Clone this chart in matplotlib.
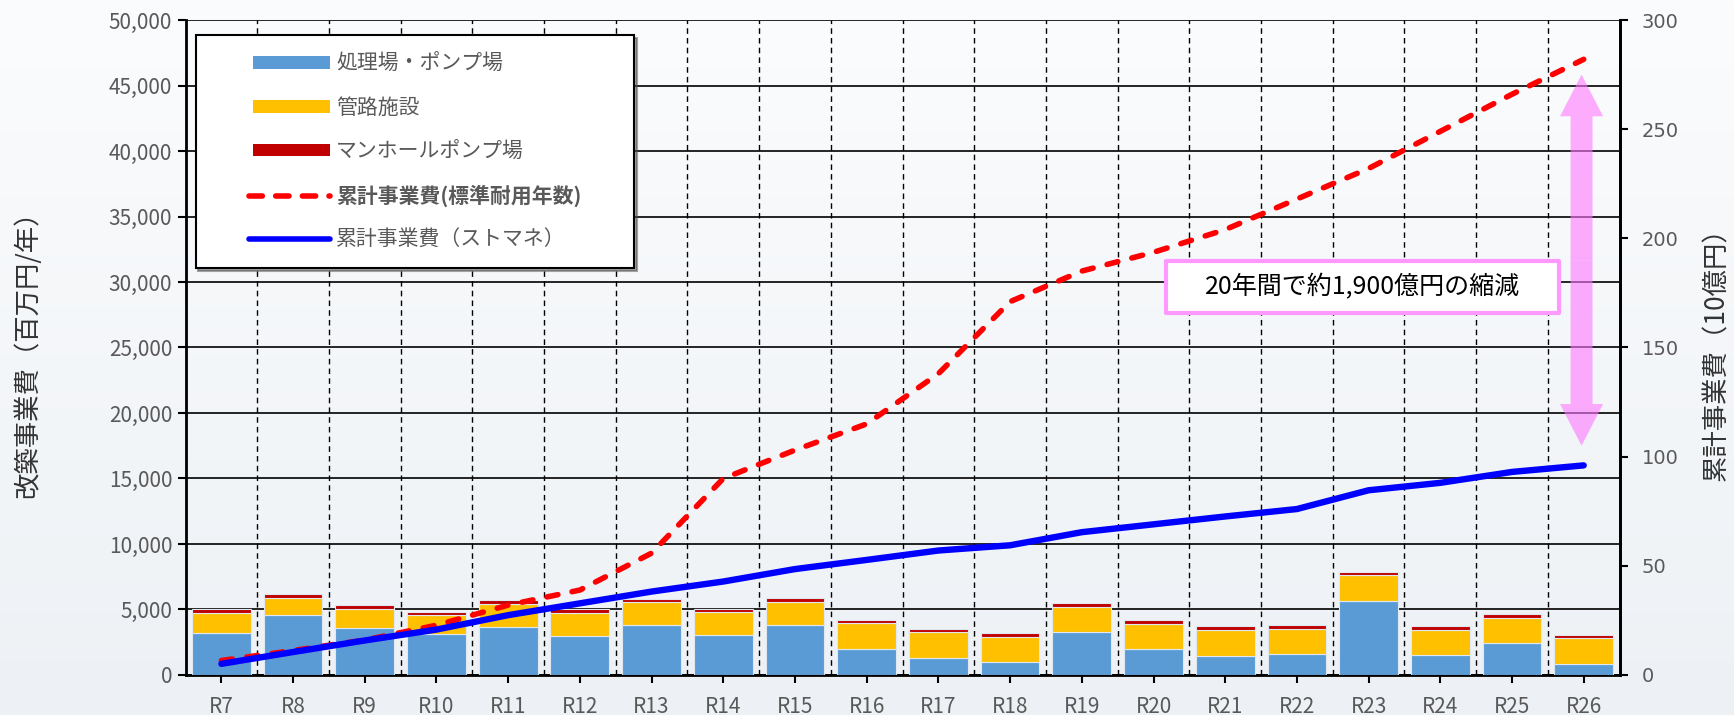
import matplotlib
matplotlib.use("Agg")
import matplotlib.pyplot as plt
import numpy as np
from matplotlib.patches import Patch, Rectangle, FancyArrowPatch
from matplotlib.lines import Line2D
from matplotlib.legend_handler import HandlerPatch, HandlerLine2D
from matplotlib.colors import LinearSegmentedColormap
from matplotlib.ticker import FuncFormatter, MultipleLocator

plt.rcParams['font.family'] = ['Noto Sans CJK JP', 'DejaVu Sans']

years = ["R7", "R8", "R9", "R10", "R11", "R12", "R13", "R14", "R15", "R16",
         "R17", "R18", "R19", "R20", "R21", "R22", "R23", "R24", "R25", "R26"]
# 改築事業費 (百万円/年)
treatment = [3180, 4560, 3560, 3100, 3670, 2950, 3820, 3030, 3850, 2000,
             1280, 970, 3280, 1950, 1460, 1590, 5640, 1490, 2440, 820]
pipes = [1560, 1310, 1490, 1440, 1740, 1790, 1720, 1740, 1740, 1950,
         1980, 1950, 1930, 1950, 1980, 1950, 2000, 1970, 1940, 1970]
manhole = [260, 310, 280, 280, 280, 260, 250, 260, 280, 280,
           230, 260, 280, 280, 280, 280, 230, 260, 260, 260]
# 累計事業費 (10億円)
cum_standard = [6.6, 11.2, 16.0, 22.8, 32.0, 38.9, 55.8, 90.0, 103.0, 115.0,
                138.0, 171.0, 185.0, 193.6, 204.0, 218.0, 232.0, 249.0, 266.0, 282.0]
cum_stomane = [5.1, 10.5, 15.8, 20.8, 27.4, 32.8, 38.2, 42.8, 48.5, 52.7,
               57.0, 59.4, 65.4, 69.0, 72.6, 76.0, 84.6, 88.0, 93.0, 96.0]
# 縮減の矢印 (10億円の軸上)
arrow_top = 275
arrow_bottom = 105

c_blue = '#5b9bd5'
c_yellow = '#ffc000'
c_red = '#c00000'
gray = '#595959'
pink = '#ff77ff'

fig = plt.figure(figsize=(17.34, 7.15), dpi=100)

# background gradient
bg = fig.add_axes([0, 0, 1, 1], zorder=-10)
grad = np.linspace(0, 1, 256).reshape(-1, 1)
cmap = LinearSegmentedColormap.from_list('bg', ['#fbfcfd', '#edf1f5'])
bg.imshow(grad, aspect='auto', cmap=cmap, extent=[0, 1, 0, 1])
bg.axis('off')

ax = fig.add_axes([0.107, 0.056, 0.827, 0.916])
ax.set_facecolor('none')
x = np.arange(len(years))
t = np.array(treatment)
p = np.array(pipes)
m = np.array(manhole)
w = 0.82
ax.bar(x, t, w, color=c_blue, edgecolor='#dfe8f0', linewidth=0.8, zorder=3)
ax.bar(x, p, w, bottom=t, color=c_yellow, edgecolor='#dfe8f0', linewidth=0.8, zorder=3)
ax.bar(x, m, w, bottom=t + p, color=c_red, edgecolor='#dfe8f0', linewidth=0.8, zorder=3)

ax.set_xlim(-0.5, len(years) - 0.5)
ax.set_ylim(0, 50000)
ax.yaxis.set_major_locator(MultipleLocator(5000))
ax.yaxis.set_major_formatter(FuncFormatter(lambda v, _: f"{int(v):,}"))
ax.set_xticks(x)
ax.set_xticklabels(years)
ax.set_xticks(x[:-1] + 0.5, minor=True)
ax.grid(axis='y', which='major', color='black', linewidth=1.2, zorder=1)
ax.grid(axis='x', which='minor', color='black', linestyle=(0, (4, 3)), linewidth=1.0, zorder=1)
ax.tick_params(axis='x', which='minor', length=0)
ax.tick_params(axis='both', which='major', colors='black', labelcolor=gray, labelsize=15,
               width=1.5, length=6)
ax.tick_params(axis='x', pad=9)
for s in ['left', 'bottom', 'right']:
    ax.spines[s].set_linewidth(2)
ax.spines['top'].set_visible(False)
ax.set_ylabel("改築事業費（百万円/年）", fontsize=19, color='#333333')
ax.yaxis.set_label_coords(-0.101, 0.5)

ax2 = ax.twinx()
ax2.plot(x, cum_standard, color='#ff0000', linestyle=(0, (2, 2.6)), linewidth=4,
         dash_capstyle='round', zorder=4)
ax2.plot(x, cum_stomane, color='#0000ff', linewidth=4.6, solid_capstyle='round', zorder=4)
ax2.set_ylim(0, 300)
ax2.yaxis.set_major_locator(MultipleLocator(50))
ax2.tick_params(axis='y', colors='black', labelcolor=gray, labelsize=14, width=1.5, length=6, pad=10)
for lab in ax2.get_yticklabels():
    lab.set_family('DejaVu Sans')
ax2.spines['right'].set_linewidth(2)
ax2.spines['top'].set_visible(False)
ax2.set_ylabel("累計事業費（10億円）", fontsize=19, color='#333333')
ax2.yaxis.set_label_coords(1.058, 0.5)

# reduction arrow (two heads drawn from the middle outward)
ax_x = x[-1] - 0.03
mid = (arrow_top + arrow_bottom) / 2
for end in (arrow_top, arrow_bottom):
    arr = FancyArrowPatch((ax_x, mid), (ax_x, end),
                          arrowstyle='simple,head_length=30,head_width=31,tail_width=15.8',
                          mutation_scale=1, shrinkA=0, shrinkB=0, lw=0,
                          color=pink, alpha=0.6, zorder=5)
    ax2.add_patch(arr)

# note box
ax2.add_patch(Rectangle((0.684, 0.553), 0.274, 0.079, transform=ax2.transAxes,
                        facecolor='white', edgecolor='#ff99ff', linewidth=3,
                        joinstyle='round', zorder=6))
ax2.text(0.821, 0.5925, "20年間で約1,900億円の縮減", transform=ax2.transAxes,
         ha='center', va='center', fontsize=18, color='black', zorder=7)

handles = [
    Patch(facecolor=c_blue, label="処理場・ポンプ場"),
    Patch(facecolor=c_yellow, label="管路施設"),
    Patch(facecolor=c_red, label="マンホールポンプ場"),
    Line2D([], [], color='#ff0000', linestyle=(0, (2.4, 2.4)), linewidth=4,
           dash_capstyle='round', label="累計事業費(標準耐用年数)"),
    Line2D([], [], color='#0000ff', linewidth=4, solid_capstyle='round', label="累計事業費（ストマネ）"),
]
hmap = {Patch: HandlerPatch(xpad=1.9), Line2D: HandlerLine2D(xpad=1.7)}
leg = ax2.legend(handles=handles, handler_map=hmap, loc='upper left',
                 bbox_to_anchor=(0.007, 0.5, 0.306, 0.477), mode='expand',
                 fontsize=15, frameon=True, fancybox=False, shadow=True,
                 handlelength=5.6, handleheight=0.55, labelspacing=1.05,
                 borderpad=0.85, borderaxespad=0, handletextpad=0.3)
leg.get_frame().set_edgecolor('black')
leg.get_frame().set_linewidth(1.5)
leg.get_frame().set_facecolor('white')
leg.get_frame().set_alpha(1)
for i, txt in enumerate(leg.get_texts()):
    txt.set_color(gray)
    if i == 3:
        txt.set_fontweight('bold')
leg.set_zorder(10)

fig.savefig("out.png", dpi=100)
